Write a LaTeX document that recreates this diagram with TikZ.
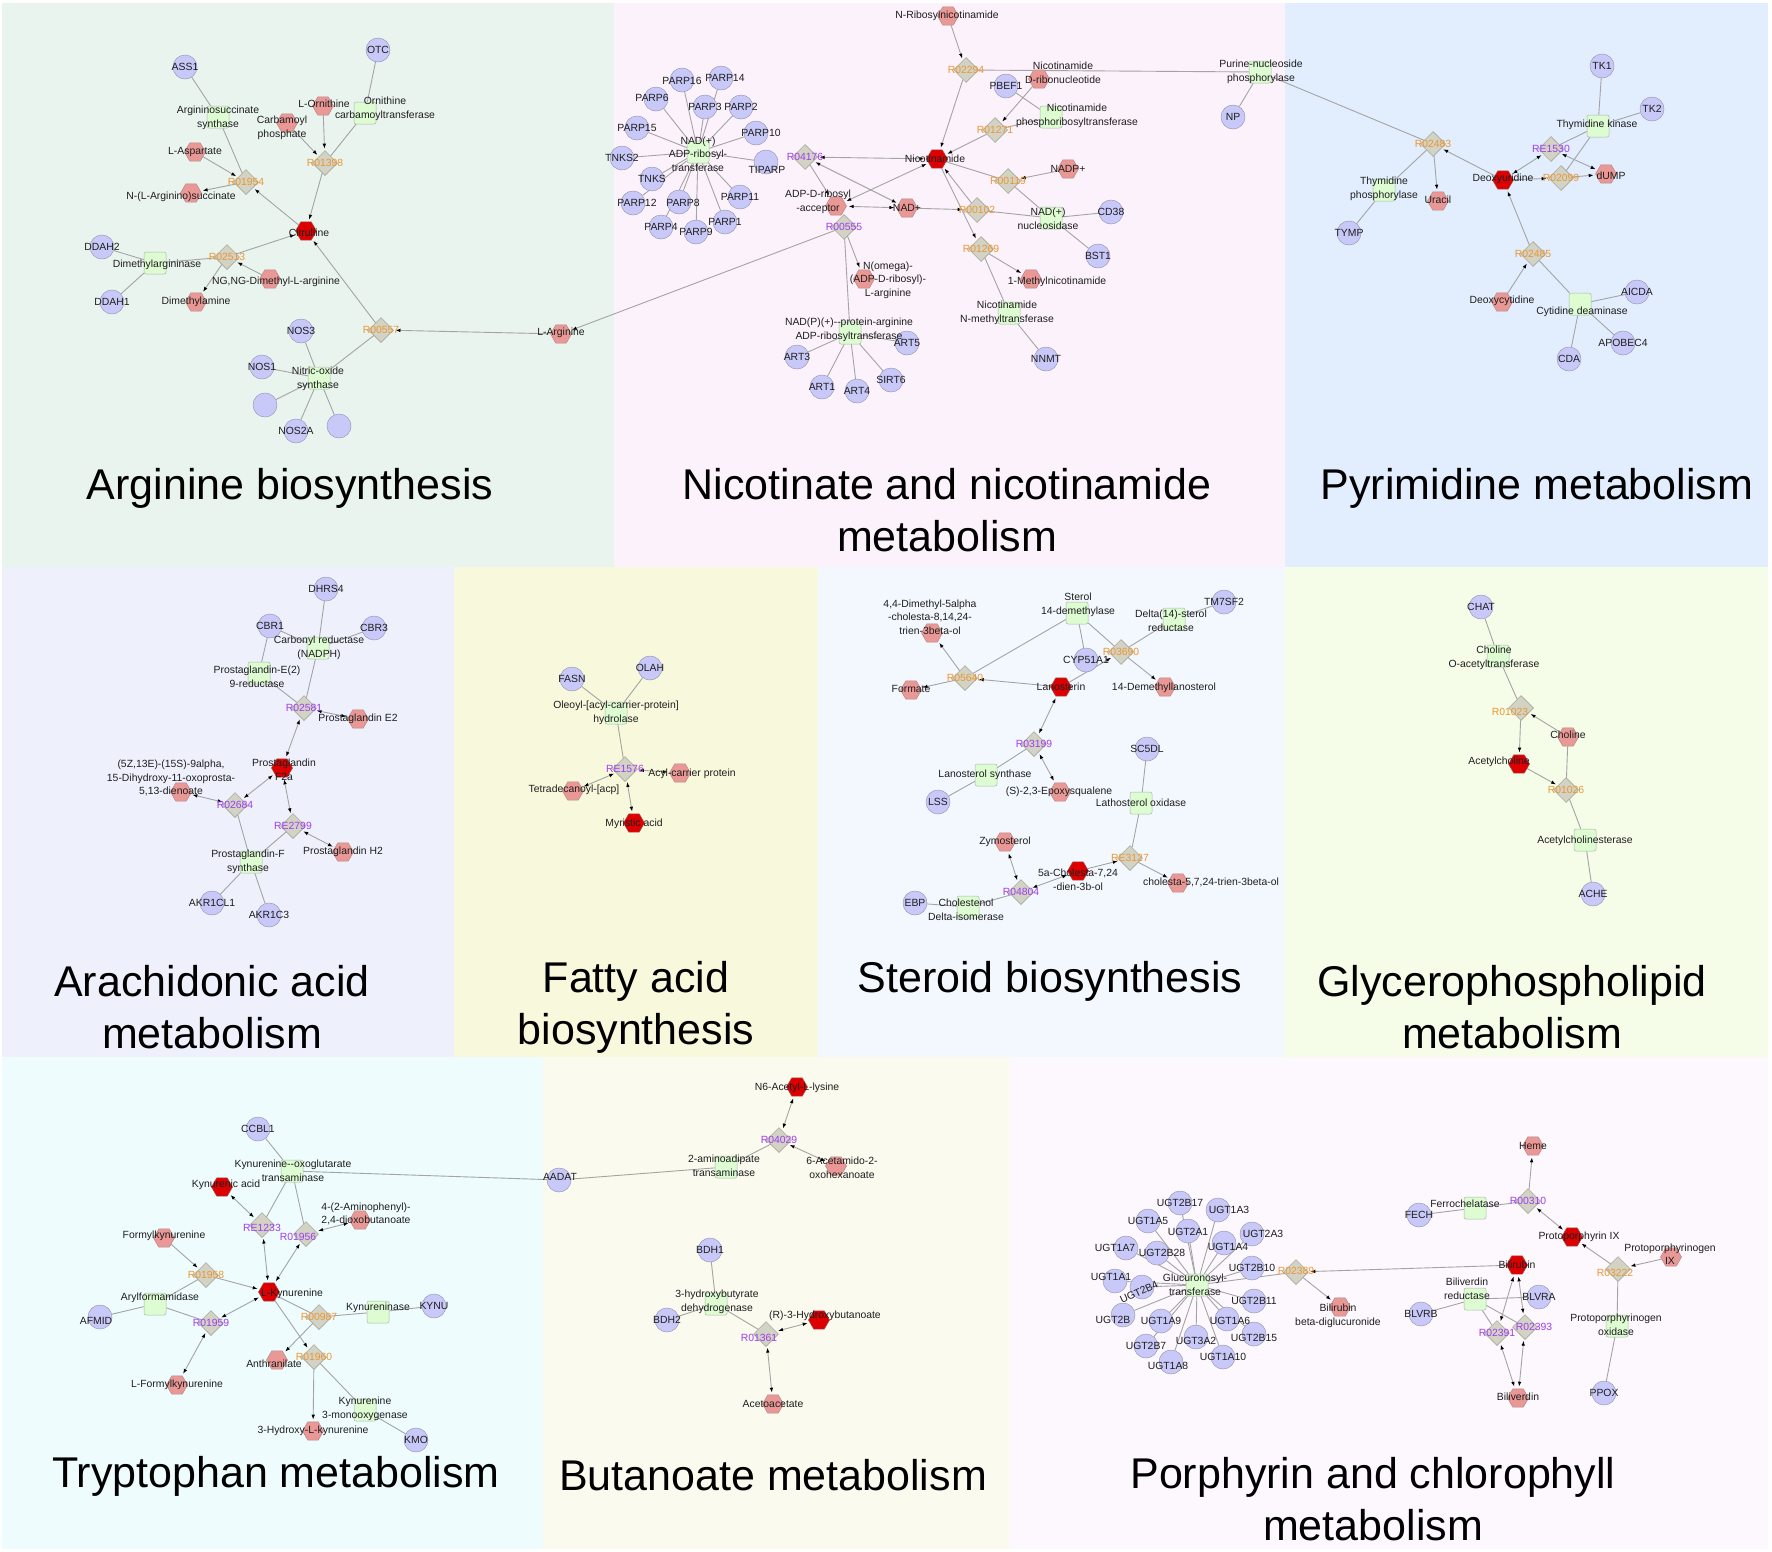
\documentclass[tikz,border=0pt]{standalone}
\usepackage{fontspec}
\setmainfont{Liberation Sans}
\usetikzlibrary{shapes.geometric,arrows.meta}
\pgfdeclarelayer{bg}\pgfdeclarelayer{edges}\pgfdeclarelayer{lab}
\pgfsetlayers{bg,edges,main,lab}
\definecolor{cmpfill}{HTML}{EA9896}
\definecolor{cmpdraw}{HTML}{B08A8A}
\definecolor{keyred}{HTML}{DD0000}
\definecolor{keydraw}{HTML}{A05050}
\definecolor{protfill}{HTML}{C9C9F9}
\definecolor{protdraw}{HTML}{9A9AB8}
\definecolor{enzfill}{HTML}{DDFCD2}
\definecolor{enzdraw}{HTML}{A8B8A8}
\definecolor{rxnfill}{HTML}{D2D3C4}
\definecolor{rxndraw}{HTML}{9A9A8C}
\definecolor{edgegray}{HTML}{A4A4A4}
\definecolor{txt}{HTML}{1E1E1E}
\definecolor{rorange}{HTML}{EC9632}
\definecolor{rpurple}{HTML}{A03CF0}
\definecolor{pArg}{HTML}{EAF4EF}
\definecolor{pNic}{HTML}{FCF2FB}
\definecolor{pPyr}{HTML}{E2EEFD}
\definecolor{pAra}{HTML}{EEF1FB}
\definecolor{pFat}{HTML}{F8F8DC}
\definecolor{pSte}{HTML}{F3F8FE}
\definecolor{pGly}{HTML}{F5FDE9}
\definecolor{pTry}{HTML}{EEFCFD}
\definecolor{pBut}{HTML}{FAFAEE}
\definecolor{pPor}{HTML}{FCF8FD}
\tikzset{
 cmp/.style={regular polygon, regular polygon sides=6, minimum size=21pt, inner sep=0pt, fill=cmpfill, draw=cmpdraw, line width=0.5pt},
 keyc/.style={cmp, fill=keyred, draw=keydraw},
 prot/.style={circle, minimum size=24pt, inner sep=0pt, fill=protfill, draw=protdraw, line width=0.5pt},
 enz/.style={rectangle, rounded corners=2pt, minimum size=22pt, inner sep=0pt, fill=enzfill, draw=enzdraw, line width=0.5pt},
 rxn/.style={diamond, minimum size=25pt, inner sep=0pt, fill=rxnfill, draw=rxndraw, line width=0.5pt},
 lbl/.style={font=\fontsize{10.4}{13.5}\selectfont, align=center, inner sep=0pt, text=txt},
 rlo/.style={lbl, text=rorange},
 rlp/.style={lbl, text=rpurple},
 ttl/.style={font=\fontsize{43}{52}\selectfont, align=center, inner sep=0pt, text=black},
 ln/.style={draw=edgegray, line width=0.9pt},
 ar/.style={ln, -{Latex[length=5pt,width=3.6pt,color=black]}, shorten >=2pt},
 ba/.style={ln, {Latex[length=5pt,width=3.6pt,color=black]}-{Latex[length=5pt,width=3.6pt,color=black]}, shorten >=2pt, shorten <=2pt},
}
\newcommand\NdX[6]{\node[#1] (#2) at (#3) {};\begin{pgfonlayer}{lab}\node[#4] (#2-l) at (#5) {#6};\end{pgfonlayer}}
\newcommand\PrtN[3]{\NdX{prot}{#1}{#2}{lbl}{#2}{#3}}
\begin{document}
\begin{tikzpicture}[x=1pt,y=-1pt]
\path[use as bounding box] (0,0) rectangle (1772,1551);
\begin{pgfonlayer}{bg}
\fill[white] (0,0) rectangle (1772,1551);
\fill[pArg] (2,3) rectangle (614,567);
\fill[pNic] (614,3) rectangle (1285,567);
\fill[pPyr] (1285,3) rectangle (1768,567);
\fill[pAra] (2,567) rectangle (454,1057);
\fill[pFat] (454,567) rectangle (818,1057);
\fill[pSte] (818,567) rectangle (1285,1057);
\fill[pGly] (1285,567) rectangle (1768,1057);
\fill[pTry] (2,1057) rectangle (543,1549);
\fill[pBut] (543,1057) rectangle (1009,1549);
\fill[pPor] (1009,1057) rectangle (1768,1549);
\end{pgfonlayer}
% ================= Arginine
\PrtN{ass1}{185,67}{ASS1}
\PrtN{otc}{378,50}{OTC}
\NdX{enz}{argss}{218,117}{lbl}{218,118}{Argininosuccinate\\synthase}
\NdX{cmp}{lorn}{323,106}{lbl}{324,104}{L-Ornithine}
\NdX{enz}{otcs}{365,113}{lbl}{385,109}{Ornithine\\carbamoyltransferase}
\NdX{cmp}{carp}{287,123}{lbl}{282,128}{Carbamoyl\\phosphate}
\NdX{cmp}{lasp}{195,152}{lbl}{195,152}{L-Aspartate}
\NdX{rxn}{r01398}{325,163}{rlo}{325,163}{R01398}
\NdX{rxn}{r01954}{246,182}{rlo}{246,182}{R01954}
\NdX{cmp}{nasuc}{191,193}{lbl}{181,197}{N-(L-Arginino)succinate}
\NdX{keyc}{citr}{306,231}{lbl}{309,233}{Citrulline}
\PrtN{ddah2}{102,247}{DDAH2}
\NdX{enz}{dmag}{155,263}{lbl}{157,265}{Dimethylargininase}
\NdX{rxn}{r02513}{227,257}{rlo}{227,257}{R02513}
\NdX{cmp}{ngng}{270,279}{lbl}{276,282}{NG,NG-Dimethyl-L-arginine}
\PrtN{ddah1}{112,302}{DDAH1}
\NdX{cmp}{dma}{196,302}{lbl}{196,302}{Dimethylamine}
\PrtN{nos3}{301,331}{NOS3}
\NdX{rxn}{r00557}{381,330}{rlo}{381,330}{R00557}
\NdX{cmp}{larg}{561,334}{lbl}{561,333}{L-Arginine}
\PrtN{nos1}{262,367}{NOS1}
\NdX{enz}{noss}{319,378}{lbl}{318,379}{Nitric-oxide\\synthase}
\node[prot] (nosu1) at (265,405) {};
\PrtN{nos2a}{296,431}{NOS2A}
\node[prot] (nosu2) at (339,426) {};
% ================= Nicotinate
\NdX{cmp}{nrn}{948,16}{lbl}{947,16}{N-Ribosylnicotinamide}
\NdX{prot}{parp16}{682,80}{lbl}{682,81}{PARP16}
\NdX{prot}{parp14}{721,78}{lbl}{725,78}{PARP14}
\NdX{prot}{parp6}{656,99}{lbl}{652,98}{PARP6}
\PrtN{parp3}{705,107}{PARP3}
\PrtN{parp2}{741,107}{PARP2}
\PrtN{parp15}{637,128}{PARP15}
\NdX{prot}{parp10}{756,133}{lbl}{761,133}{PARP10}
\PrtN{tnks2}{622,158}{TNKS2}
\NdX{prot}{tiparp}{766,162}{lbl}{767,170}{TIPARP}
\PrtN{tnks}{652,179}{TNKS}
\NdX{prot}{parp12}{633,203}{lbl}{637,203}{PARP12}
\NdX{prot}{parp8}{679,202}{lbl}{683,203}{PARP8}
\PrtN{parp11}{740,197}{PARP11}
\PrtN{parp4}{661,227}{PARP4}
\PrtN{parp9}{696,232}{PARP9}
\PrtN{parp1}{725,222}{PARP1}
\NdX{enz}{nadadp}{698,152}{lbl}{698,154}{NAD(+)\\ADP-ribosyl-\\transferase}
\NdX{rxn}{r04176}{805,157}{rlp}{805,157}{R04176}
\NdX{keyc}{nicam}{937,159}{lbl}{935,159}{Nicotinamide}
\NdX{cmp}{adpacc}{836,206}{lbl}{818,202}{ADP-D-ribosyl\\-acceptor}
\NdX{cmp}{nadp}{907,208}{lbl}{907,208}{NAD+}
\NdX{rxn}{r00555}{844,227}{rlp}{844,227}{R00555}
\NdX{cmp}{nomega}{864,279}{lbl}{888,280}{N(omega)-\\(ADP-D-ribosyl)-\\L-arginine}
\NdX{enz}{nadpart}{850,333}{lbl}{849,330}{NAD(P)(+)-{}-protein-arginine\\ADP-ribosyltransferase}
\PrtN{art5}{907,343}{ART5}
\PrtN{art3}{797,357}{ART3}
\PrtN{sirt6}{891,380}{SIRT6}
\PrtN{art1}{822,387}{ART1}
\PrtN{art4}{857,391}{ART4}
\NdX{rxn}{r02294}{966,70}{rlo}{966,70}{R02294}
\NdX{cmp}{nmn}{1039,79}{lbl}{1063,73}{Nicotinamide\\D-ribonucleotide}
\PrtN{pbef1}{1006,86}{PBEF1}
\NdX{enz}{nampt}{1051,117}{lbl}{1077,116}{Nicotinamide\\phosphoribosyltransferase}
\NdX{rxn}{r01271}{995,130}{rlo}{995,130}{R01271}
\NdX{enz}{pnp}{1260,72}{lbl}{1261,72}{Purine-nucleoside\\phosphorylase}
\PrtN{np}{1233,117}{NP}
\NdX{cmp}{nadpp}{1068,169}{lbl}{1068,169}{NADP+}
\NdX{rxn}{r00119}{1008,181}{rlo}{1008,181}{R00119}
\NdX{rxn}{r00102}{977,210}{rlo}{977,210}{R00102}
\NdX{enz}{nadnuc}{1051,218}{lbl}{1048,219}{NAD(+)\\nucleosidase}
\PrtN{cd38}{1111,212}{CD38}
\PrtN{bst1}{1098,256}{BST1}
\NdX{rxn}{r01269}{981,249}{rlo}{981,249}{R01269}
\NdX{cmp}{mnam}{1031,279}{lbl}{1057,282}{1-Methylnicotinamide}
\NdX{enz}{nnmtsq}{1009,313}{lbl}{1007,313}{Nicotinamide\\N-methyltransferase}
\PrtN{nnmt}{1046,359}{NNMT}
% ================= Pyrimidine
\PrtN{tk1}{1602,66}{TK1}
\PrtN{tk2}{1652,109}{TK2}
\NdX{enz}{tks}{1598,126}{lbl}{1597,125}{Thymidine kinase}
\NdX{rxn}{r02483}{1433,144}{rlo}{1433,144}{R02483}
\NdX{rxn}{re1530}{1551,149}{rlp}{1551,149}{RE1530}
\NdX{keyc}{dur}{1503,180}{lbl}{1503,179}{Deoxyuridine}
\NdX{rxn}{r02099}{1561,178}{rlo}{1561,178}{R02099}
\NdX{cmp}{dump}{1606,174}{lbl}{1611,176}{dUMP}
\NdX{enz}{tps}{1384,190}{lbl}{1384,189}{Thymidine\\phosphorylase}
\NdX{cmp}{ura}{1438,201}{lbl}{1438,200}{Uracil}
\PrtN{tymp}{1349,233}{TYMP}
\NdX{rxn}{r02485}{1533,254}{rlo}{1533,254}{R02485}
\NdX{cmp}{dcyt}{1502,302}{lbl}{1502,301}{Deoxycytidine}
\NdX{enz}{cdas}{1580,304}{lbl}{1582,312}{Cytidine deaminase}
\PrtN{aicda}{1637,292}{AICDA}
\PrtN{apobec4}{1623,343}{APOBEC4}
\PrtN{cda}{1569,359}{CDA}
% ================= Arachidonic
\PrtN{dhrs4}{326,589}{DHRS4}
\PrtN{cbr1}{270,626}{CBR1}
\PrtN{cbr3}{374,628}{CBR3}
\NdX{enz}{cbrs}{318,648}{lbl}{319,648}{Carbonyl reductase\\(NADPH)}
\NdX{enz}{pge9}{259,673}{lbl}{257,677}{Prostaglandin-E(2)\\9-reductase}
\NdX{rxn}{r02581}{304,708}{rlp}{304,708}{R02581}
\NdX{cmp}{pge2}{358,719}{lbl}{358,719}{Prostaglandin E2}
\NdX{keyc}{pgf2a}{282,768}{lbl}{284,770}{Prostaglandin\\F2a}
\NdX{cmp}{dhk}{181,792}{lbl}{171,778}{(5Z,13E)-(15S)-9alpha,\\15-Dihydroxy-11-oxoprosta-\\5,13-dienoate}
\NdX{rxn}{r02684}{235,805}{rlp}{235,805}{R02684}
\NdX{rxn}{re2799}{293,826}{rlp}{293,826}{RE2799}
\NdX{cmp}{pgh2}{343,852}{lbl}{343,852}{Prostaglandin H2}
\NdX{enz}{pgfs}{251,862}{lbl}{248,862}{Prostaglandin-F\\synthase}
\PrtN{akr1cl1}{212,903}{AKR1CL1}
\PrtN{akr1c3}{269,915}{AKR1C3}
% ================= Fatty acid
\PrtN{fasn}{572,679}{FASN}
\PrtN{olah}{650,668}{OLAH}
\NdX{enz}{oah}{616,713}{lbl}{616,713}{Oleoyl-[acyl-carrier-protein]\\hydrolase}
\NdX{rxn}{re1576}{625,769}{rlp}{625,769}{RE1576}
\NdX{cmp}{acp}{680,773}{lbl}{692,774}{Acyl-carrier protein}
\NdX{cmp}{tdacp}{573,791}{lbl}{574,790}{Tetradecanoyl-[acp]}
\NdX{keyc}{myr}{634,823}{lbl}{634,824}{Myristic acid}
% ================= Steroid
\NdX{enz}{s14d}{1077,613}{lbl}{1078,605}{Sterol\\14-demethylase}
\PrtN{tm7sf2}{1224,602}{TM7SF2}
\NdX{enz}{d14r}{1174,619}{lbl}{1171,621}{Delta(14)-sterol\\reductase}
\NdX{cmp}{dmc}{932,633}{lbl}{930,617}{4,4-Dimethyl-5alpha\\-cholesta-8,14,24-\\trien-3beta-ol}
\PrtN{cyp51}{1086,660}{CYP51A1}
\NdX{rxn}{r03690}{1121,652}{rlo}{1121,652}{R03690}
\NdX{rxn}{r05640}{965,678}{rlo}{965,678}{R05640}
\NdX{cmp}{form}{911,690}{lbl}{911,689}{Formate}
\NdX{keyc}{lano}{1061,687}{lbl}{1061,687}{Lanosterin}
\NdX{cmp}{dml}{1165,687}{lbl}{1164,688}{14-Demethyllanosterol}
\NdX{rxn}{r03199}{1034,744}{rlp}{1034,744}{R03199}
\PrtN{sc5dl}{1147,749}{SC5DL}
\NdX{enz}{lsss}{986,775}{lbl}{985,775}{Lanosterol synthase}
\NdX{cmp}{epox}{1060,792}{lbl}{1059,792}{(S)-2,3-Epoxysqualene}
\PrtN{lss}{938,802}{LSS}
\NdX{enz}{lox}{1141,803}{lbl}{1141,803}{Lathosterol oxidase}
\NdX{cmp}{zym}{1005,842}{lbl}{1005,842}{Zymosterol}
\NdX{rxn}{re3127}{1130,858}{rlo}{1130,858}{RE3127}
\NdX{keyc}{chd}{1078,871}{lbl}{1078,880}{5a-Cholesta-7,24\\-dien-3b-ol}
\NdX{cmp}{ctol}{1178,883}{lbl}{1211,882}{cholesta-5,7,24-trien-3beta-ol}
\NdX{rxn}{r04804}{1021,892}{rlp}{1021,892}{R04804}
\PrtN{ebp}{915,903}{EBP}
\NdX{enz}{cdi}{968,907}{lbl}{966,910}{Cholestenol\\Delta-isomerase}
% ================= Glycerophospholipid
\PrtN{chat}{1481,607}{CHAT}
\NdX{enz}{choat}{1498,656}{lbl}{1494,658}{Choline\\O-acetyltransferase}
\NdX{rxn}{r01023}{1521,708}{rlo}{1510,712}{R01023}
\NdX{cmp}{chol}{1568,737}{lbl}{1568,735}{Choline}
\NdX{keyc}{ach}{1519,764}{lbl}{1499,762}{Acetylcholine}
\NdX{rxn}{r01026}{1566,790}{rlo}{1566,790}{R01026}
\NdX{enz}{achs}{1585,840}{lbl}{1585,841}{Acetylcholinesterase}
\PrtN{ache}{1593,894}{ACHE}
% ================= Tryptophan
\PrtN{ccbl1}{258,1129}{CCBL1}
\NdX{enz}{kot}{292,1171}{lbl}{293,1171}{Kynurenine-{}-oxoglutarate\\transaminase}
\NdX{keyc}{kyna}{222,1187}{lbl}{226,1185}{Kynurenic acid}
\NdX{cmp}{apdb}{360,1220}{lbl}{366,1214}{4-(2-Aminophenyl)-\\2,4-dioxobutanoate}
\NdX{rxn}{re1233}{262,1225}{rlp}{262,1228}{RE1233}
\NdX{rxn}{r01956}{306,1234}{rlp}{298,1237}{R01956}
\NdX{cmp}{fkyn}{164,1238}{lbl}{164,1236}{Formylkynurenine}
\NdX{rxn}{r01958}{206,1275}{rlo}{206,1275}{R01958}
\NdX{keyc}{lkyn}{269,1292}{lbl}{292,1294}{L-Kynurenine}
\NdX{enz}{afs}{155,1304}{lbl}{160,1298}{Arylformamidase}
\NdX{prot}{afmid}{100,1317}{lbl}{96,1321}{AFMID}
\NdX{rxn}{r01959}{211,1323}{rlp}{211,1323}{R01959}
\NdX{rxn}{r00987}{319,1317}{rlo}{319,1317}{R00987}
\NdX{enz}{kynase}{378,1312}{lbl}{378,1308}{Kynureninase}
\PrtN{kynu}{434,1306}{KYNU}
\NdX{cmp}{anth}{277,1360}{lbl}{274,1364}{Anthranilate}
\NdX{rxn}{r01960}{314,1357}{rlo}{314,1357}{R01960}
\NdX{cmp}{lfk}{177,1385}{lbl}{177,1385}{L-Formylkynurenine}
\NdX{enz}{k3mo}{365,1410}{lbl}{365,1409}{Kynurenine\\3-monooxygenase}
\NdX{cmp}{hk}{313,1431}{lbl}{313,1431}{3-Hydroxy-L-kynurenine}
\PrtN{kmo}{416,1440}{KMO}
% ================= Butanoate
\NdX{keyc}{n6al}{797,1087}{lbl}{797,1088}{N6-Acetyl-L-lysine}
\NdX{rxn}{r04029}{779,1140}{rlp}{779,1140}{R04029}
\NdX{enz}{aat}{726,1167}{lbl}{724,1166}{2-aminoadipate\\transaminase}
\NdX{cmp}{aohx}{836,1166}{lbl}{842,1168}{6-Acetamido-2-\\oxohexanoate}
\NdX{prot}{aadat}{559,1180}{lbl}{560,1177}{AADAT}
\PrtN{bdh1}{710,1250}{BDH1}
\NdX{enz}{hbd}{716,1304}{lbl}{717,1302}{3-hydroxybutyrate\\dehydrogenase}
\PrtN{bdh2}{667,1320}{BDH2}
\NdX{keyc}{rhb}{819,1320}{lbl}{825,1316}{(R)-3-Hydroxybutanoate}
\NdX{rxn}{r01361}{766,1334}{rlp}{759,1338}{R01361}
\NdX{cmp}{acac}{773,1404}{lbl}{773,1404}{Acetoacetate}
% ================= Porphyrin
\PrtN{ugtbxvii}{1180,1203}{UGT2B17}
\NdX{prot}{ugtaiii}{1218,1210}{lbl}{1229,1210}{UGT1A3}
\PrtN{ugtav}{1148,1221}{UGT1A5}
\NdX{prot}{ugtbai}{1188,1231}{lbl}{1188,1232}{UGT2A1}
\NdX{prot}{ugtbaiii}{1252,1234}{lbl}{1263,1234}{UGT2A3}
\NdX{prot}{ugtavii}{1126,1248}{lbl}{1115,1248}{UGT1A7}
\NdX{prot}{ugtbxxviii}{1157,1253}{lbl}{1162,1253}{UGT2B28}
\NdX{prot}{ugtaiv}{1224,1243}{lbl}{1228,1247}{UGT1A4}
\PrtN{ugtbx}{1252,1268}{UGT2B10}
\NdX{prot}{ugtai}{1115,1281}{lbl}{1111,1277}{UGT1A1}
\node[prot] (ugtbiv) at (1142,1287) {};
\begin{pgfonlayer}{lab}\node[lbl,rotate=25] (ugtbiv-l) at (1139,1292) {UGT2B4};\end{pgfonlayer}
\NdX{enz}{glu}{1197,1285}{lbl}{1195,1285}{Glucuronosyl-\\transferase}
\PrtN{ugtbxi}{1254,1301}{UGT2B11}
\NdX{prot}{ugtb}{1123,1315}{lbl}{1113,1320}{UGT2B}
\PrtN{ugtaix}{1161,1321}{UGT1A9}
\NdX{prot}{ugtavi}{1227,1319}{lbl}{1230,1321}{UGT1A6}
\NdX{prot}{ugtbxv}{1254,1334}{lbl}{1254,1338}{UGT2B15}
\PrtN{ugtbvii}{1146,1346}{UGT2B7}
\NdX{prot}{ugtc}{1196,1337}{lbl}{1196,1341}{UGT3A2}
\PrtN{ugtax}{1223,1357}{UGT1A10}
\NdX{prot}{ugtaviii}{1171,1362}{lbl}{1168,1366}{UGT1A8}
\NdX{rxn}{r02389}{1296,1272}{rlo}{1296,1271}{R02389}
\NdX{cmp}{bdg}{1340,1307}{lbl}{1338,1316}{Bilirubin\\beta-diglucuronide}
\NdX{cmp}{heme}{1533,1146}{lbl}{1533,1146}{Heme}
\NdX{rxn}{r00310}{1528,1201}{rlp}{1528,1201}{R00310}
\NdX{enz}{fch}{1475,1208}{lbl}{1465,1204}{Ferrochelatase}
\PrtN{fech}{1419,1215}{FECH}
\NdX{keyc}{ppix}{1572,1237}{lbl}{1579,1237}{Protoporphyrin IX}
\NdX{cmp}{ppgix}{1671,1257}{lbl}{1670,1254}{Protoporphyrinogen\\IX}
\NdX{keyc}{bili}{1517,1265}{lbl}{1517,1265}{Bilirubin}
\NdX{rxn}{r03222}{1618,1269}{rlo}{1615,1273}{R03222}
\NdX{enz}{bvr}{1475,1299}{lbl}{1467,1289}{Biliverdin\\reductase}
\PrtN{blvra}{1539,1297}{BLVRA}
\PrtN{blvrb}{1421,1314}{BLVRB}
\NdX{rxn}{r02391}{1497,1333}{rlp}{1497,1333}{R02391}
\NdX{rxn}{r02393}{1525,1327}{rlp}{1534,1327}{R02393}
\NdX{enz}{ppoxs}{1617,1326}{lbl}{1616,1325}{Protoporphyrinogen\\oxidase}
\NdX{cmp}{bv}{1518,1398}{lbl}{1518,1397}{Biliverdin}
\PrtN{ppox}{1604,1393}{PPOX}
% ================= Titles
\node[ttl] (t1) at (290,488) {Arginine biosynthesis};
\node[ttl] (t2) at (947,510) {Nicotinate and nicotinamide\\metabolism};
\node[ttl] (t3) at (1537,488) {Pyrimidine metabolism};
\node[ttl] (t4) at (212,1007) {Arachidonic acid\\metabolism};
\node[ttl] (t5) at (636,1007) {Fatty acid\\biosynthesis};
\node[ttl] (t6) at (1050,981) {Steroid biosynthesis};
\node[ttl] (t7) at (1512,1007) {Glycerophospholipid\\metabolism};
\node[ttl] (t8) at (276,1476) {Tryptophan metabolism};
\node[ttl] (t9) at (773,1475) {Butanoate metabolism};
\node[ttl] (t10) at (1373,1499) {Porphyrin and chlorophyll\\metabolism};
% ================= Edges
\begin{pgfonlayer}{edges}
% Arginine
\draw[ln] (ass1)--(argss) (argss)--(r01954) (otc)--(otcs) (otcs)--(r01398)
  (ddah2)--(dmag) (ddah1)--(dmag) (dmag)--(r02513)
  (nos3)--(noss) (nos1)--(noss) (nosu1)--(noss) (nos2a)--(noss) (nosu2)--(noss) (noss)--(r00557);
\draw[ar] (lasp)--(r01954);
\draw[ar] (r01954)--(nasuc);
\draw[ar] (citr)--(r01954);
\draw[ar] (lorn)--(r01398);
\draw[ar] (carp)--(r01398);
\draw[ar] (r01398)--(citr);
\draw[ar] (r02513)--(citr);
\draw[ar] (ngng)--(r02513);
\draw[ar] (r02513)--(dma);
\draw[ar] (r00557)--(citr);
\draw[ar] (larg)--(r00557);
% Nicotinate
\foreach \p in {parp16,parp14,parp6,parp3,parp2,parp15,parp10,tnks2,tiparp,tnks,parp12,parp8,parp11,parp4,parp9,parp1}
  \draw[ln] (\p)--(nadadp);
\draw[ln] (r00555)--(nadpart) (nadpart)--(art5) (nadpart)--(art3) (nadpart)--(sirt6) (nadpart)--(art1) (nadpart)--(art4)
  (r02294)--(pnp) (pnp)--(np) (pbef1)--(nampt) (nampt)--(r01271)
  (nicam)--(r00119) (r00119)--(nadnuc) (r00102)--(nadnuc) (cd38)--(nadnuc) (bst1)--(nadnuc)
  (r01269)--(nnmtsq) (nnmtsq)--(nnmt);
\draw[ar] (nrn)--(r02294);
\draw[ar] (r02294)--(nicam);
\draw[ar] (nmn)--(r01271);
\draw[ar] (r01271)--(nicam);
\draw[ar] (r00102)--(nicam);
\draw[ar] (nadpp)--(r00119);
\draw[ar] (nadp)--(r00102);
\draw[ar] (nicam)--(r01269);
\draw[ar] (r01269)--(mnam);
\draw[ar] (r04176)--(adpacc);
\draw[ar] (r00555)--(nomega);
\draw[ar] (r00555)--(larg);
\draw[ba] (r04176)--(nicam);
\draw[ba] (r04176)--(nadp);
\draw[ba] (nicam)--(adpacc);
\draw[ba] (nadp)--(adpacc);
% Pyrimidine
\draw[ln] (pnp)--(r02483) (r02483)--(tps) (tps)--(tymp) (re1530)--(tks) (r02099)--(tks) (tk1)--(tks) (tk2)--(tks)
  (r02485)--(cdas) (cdas)--(aicda) (cdas)--(apobec4) (cdas)--(cda);
\draw[ar] (dur)--(r02483);
\draw[ar] (r02483)--(ura);
\draw[ar] (dur)--(r02099);
\draw[ar] (r02099)--(dump);
\draw[ar] (r02485)--(dur);
\draw[ar] (dcyt)--(r02485);
\draw[ba] (dur)--(re1530);
\draw[ba] (re1530)--(dump);
% Arachidonic
\draw[ln] (dhrs4)--(cbrs) (cbr1)--(cbrs) (cbr3)--(cbrs) (cbr1)--(pge9) (cbrs)--(r02581) (pge9)--(r02581)
  (r02684)--(pgfs) (re2799)--(pgfs) (pgfs)--(akr1cl1) (pgfs)--(akr1c3);
\draw[ba] (r02581)--(pge2);
\draw[ba] (r02581)--(pgf2a);
\draw[ba] (pgf2a)--(r02684);
\draw[ba] (r02684)--(dhk);
\draw[ba] (pgf2a)--(re2799);
\draw[ba] (re2799)--(pgh2);
% Fatty
\draw[ln] (fasn)--(oah) (olah)--(oah) (oah)--(re1576);
\draw[ba] (re1576)--(tdacp);
\draw[ba] (re1576)--(acp);
\draw[ba] (re1576)--(myr);
% Steroid
\draw[ln] (s14d)--(r05640) (s14d)--(cyp51) (s14d)--(r03690) (r03690)--(d14r) (d14r)--(tm7sf2)
  (r03199)--(lsss) (lsss)--(lss) (sc5dl)--(lox) (lox)--(re3127) (r04804)--(cdi) (cdi)--(ebp);
\draw[ar] (lano)--(r03690);
\draw[ar] (r03690)--(dml);
\draw[ar] (lano)--(r05640);
\draw[ar] (r05640)--(dmc);
\draw[ar] (r05640)--(form);
\draw[ar] (chd)--(re3127);
\draw[ar] (re3127)--(ctol);
\draw[ba] (lano)--(r03199);
\draw[ba] (r03199)--(epox);
\draw[ba] (zym)--(r04804);
\draw[ba] (r04804)--(chd);
% Glycerophospholipid
\draw[ln] (chat)--(choat) (choat)--(r01023) (r01026)--(chol) (r01026)--(achs) (achs)--(ache);
\draw[ar] (chol)--(r01023);
\draw[ar] (r01023)--(ach);
\draw[ar] (ach)--(r01026);
% Tryptophan
\draw[ln] (ccbl1)--(kot) (kot)--(aadat) (kot)--(re1233) (kot)--(r01956) (r01958)--(afs) (afs)--(afmid) (afs)--(r01959)
  (lkyn)--(r00987) (r00987)--(kynase) (kynase)--(kynu) (r01960)--(k3mo) (k3mo)--(kmo);
\draw[ar] (fkyn)--(r01958);
\draw[ar] (r01958)--(lkyn);
\draw[ar] (r00987)--(anth);
\draw[ar] (lkyn)--(r01960);
\draw[ar] (r01960)--(hk);
\draw[ba] (kyna)--(re1233);
\draw[ba] (re1233)--(lkyn);
\draw[ba] (lkyn)--(r01956);
\draw[ba] (r01956)--(apdb);
\draw[ba] (r01959)--(lkyn);
\draw[ba] (r01959)--(lfk);
% Butanoate
\draw[ln] (aat)--(aadat) (aat)--(r04029) (bdh1)--(hbd) (bdh2)--(hbd) (hbd)--(r01361);
\draw[ba] (n6al)--(r04029);
\draw[ba] (r04029)--(aohx);
\draw[ba] (r01361)--(rhb);
\draw[ba] (r01361)--(acac);
% Porphyrin
\foreach \u in {ugtbxvii,ugtaiii,ugtav,ugtbai,ugtbaiii,ugtavii,ugtbxxviii,ugtaiv,ugtbx,ugtai,ugtbiv,ugtbxi,ugtb,ugtaix,ugtavi,ugtbxv,ugtbvii,ugtc,ugtax,ugtaviii}
  \draw[ln] (\u)--(glu);
\draw[ln] (glu)--(r02389) (r00310)--(fch) (fch)--(fech) (r03222)--(ppoxs) (ppoxs)--(ppox)
  (bvr)--(r02391) (bvr)--(r02393) (bvr)--(blvra) (bvr)--(blvrb);
\draw[ar] (bili)--(r02389);
\draw[ar] (r02389)--(bdg);
\draw[ar] (r00310)--(heme);
\draw[ar] (r03222)--(ppix);
\draw[ar] (ppgix)--(r03222);
\draw[ba] (r00310)--(ppix);
\draw[ba] (bili)--(r02391);
\draw[ba] (bili)--(r02393);
\draw[ba] (r02391)--(bv);
\draw[ba] (r02393)--(bv);
\end{pgfonlayer}
\end{tikzpicture}
\end{document}
